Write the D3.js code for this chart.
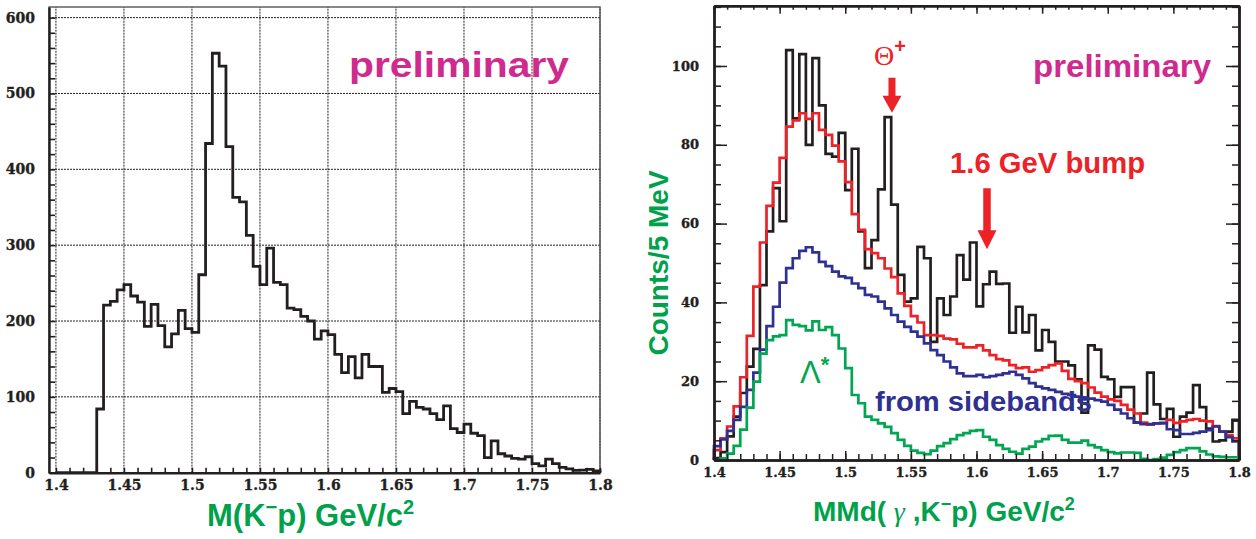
<!DOCTYPE html>
<html lang="en">
<head>
<meta charset="UTF-8">
<title>K-p mass spectra</title>
<script src="https://d3js.org/d3.v7.min.js"></script>
<style>
  body { margin: 0; background: #fff; }
  svg text { font-family: "Liberation Sans", Arial, sans-serif; }
  .tick text { font-family: "DejaVu Serif", serif !important; font-weight: bold; fill: #231f20;
               stroke: #231f20; stroke-width: 0.35px; }
</style>
</head>
<body>
<script>
    const width  = 1256;
    const height = 539;

    // 5 MeV bins from 1.4 to 1.8 GeV
    const binLow   = 1.4;
    const binWidth = 0.005;

    // left panel: M(K-p)
    const leftCounts = [
        0, 0, 0, 0, 0, 0, 84, 221, 226, 241,
        248, 233, 225, 193, 222, 194, 166, 183, 214, 190,
        185, 261, 434, 553, 536, 430, 363, 357, 313, 272,
        248, 296, 251, 248, 217, 215, 206, 200, 176, 187,
        182, 156, 132, 153, 125, 156, 140, 140, 106, 111,
        107, 78, 94, 86, 84, 78, 70, 88, 58, 53,
        64, 52, 49, 20, 42, 25, 22, 19, 18, 21,
        12, 9, 18, 12, 7, 5, 3, 3.5, 4.5, 2.5
    ];

    // right panel: MMd(gamma, K-p)
    const dataCounts = [
        0.5, 2, 6, 11, 17, 23.7, 28.2, 44.4, 58, 69,
        60.6, 104, 86.7, 103, 80, 102, 90, 77.7, 77, 83,
        68.5, 79, 58, 48.7, 55.8, 68.7, 87, 64.8, 47, 40.2,
        41, 54.1, 51.2, 30, 41, 36.8, 41.5, 52, 45.8, 55.2,
        39, 44.6, 47.8, 44.7, 44.8, 32.3, 38.9, 32.4, 36.8, 27.8,
        33, 30, 25, 25, 24, 20.5, 12, 29.1, 28, 21.1,
        20.5, 16, 18.5, 18.5, 9.5, 11.8, 22.2, 14.1, 10.4, 13,
        5.9, 11, 12, 19, 13.4, 8, 4.7, 5, 7.2, 10.2
    ];
    const sumCounts = [
        2.5, 5.5, 8.5, 13.6, 21, 31.5, 44, 55.2, 64.5, 70.4,
        76.7, 84.6, 86.2, 88, 86.6, 88, 83.8, 82.5, 79.8, 75.8,
        70.5, 62.4, 58.4, 53.5, 52.5, 51.2, 48.6, 46.4, 42.3, 39.1,
        36.5, 34.9, 31.7, 31.7, 31.5, 30.8, 30.6, 29.5, 28.6, 28.6,
        29.1, 27.8, 26.6, 25.6, 25.3, 24.1, 23.3, 23.5, 22.4, 22.8,
        23.5, 24.1, 24.5, 22.6, 20.6, 20, 19.5, 18.4, 17.1, 16.1,
        15.4, 15, 14, 12.8, 11.8, 9.5, 9, 9.3, 9.3, 10.2,
        9.4, 9.8, 10.2, 10.4, 10, 9.8, 8.6, 7.2, 6.3, 5.5
    ];
    const sidebandCounts = [
        3.5, 5.2, 7.4, 10.2, 13.5, 17.8, 22.2, 28, 34, 38.9,
        45, 48.7, 51.2, 53.1, 54, 52.7, 50.3, 49.2, 47.8, 46.6,
        46.2, 44.8, 43.6, 41.9, 41.5, 40.2, 38.5, 36.8, 35.1, 33.8,
        32.6, 31.3, 29.6, 27.9, 26.6, 25, 23.5, 22, 21.3, 21.3,
        21.6, 21, 21.3, 21.6, 22, 22.4, 21.6, 20.7, 19.5, 18.6,
        18.2, 17.8, 17.3, 16.8, 16.5, 16.1, 15.4, 15.6, 15.2, 14.8,
        14, 12.8, 11.8, 10.6, 9.5, 9.1, 9.1, 9.3, 9.4, 7.8,
        7.6, 6.6, 6.6, 6.9, 7.2, 7.6, 8.5, 7.2, 5.8, 4.7
    ];
    const lambdaCounts = [
        0, 0.4, 1.6, 3.6, 7.7, 13.3, 19.9, 27, 30.4, 31.4,
        31.7, 35.5, 34.3, 34, 32.9, 35.2, 33, 33.7, 31.7, 28.3,
        23.3, 16.5, 14.4, 11, 10.2, 9.3, 8.4, 6.8, 5.1, 3.6,
        2.4, 1.8, 1.5, 2.4, 3.5, 4.3, 5.3, 6.3, 6.8, 7.4,
        7.6, 5.9, 5.1, 3.8, 2.8, 2.1, 1.6, 2.8, 3.4, 4.7,
        5.3, 6.1, 6.2, 5.1, 4.4, 4.4, 4.9, 3.8, 3.2, 2.5,
        2, 1.7, 1.9, 1.9, 1.8, 0.3, 0, 0.2, 0.6, 1.3,
        2, 2.5, 3, 3, 2.2, 1.4, 0.9, 0.8, 0.7, 0.7
    ];

    // ticks
    const xMinorTicks   = d3.range(140, 181).map(d => d / 100);
    const xMajorTicks   = [1.4, 1.45, 1.5, 1.55, 1.6, 1.65, 1.7, 1.75, 1.8];
    const leftYMinor    = d3.range(0, 620, 20);
    const leftYMajor    = [0, 100, 200, 300, 400, 500, 600];
    const rightYMinor   = d3.range(0, 116, 5);
    const rightYMajor   = [0, 20, 40, 60, 80, 100];

    const black = "#231f20", red = "#ec2227", blue = "#2e3192", green = "#00a651";
    const magenta = "#cf2a8e", titleGreen = "#00a14b";

    const isMajor = d => Math.round(d * 100) % 5 === 0;
    const xFmt = d => isMajor(d) ? String(+d.toFixed(2)) : "";

    function stepPoints(counts) {
        const n = counts.length;
        const pts = [[binLow, 0]];
        counts.forEach((c, i) => pts.push([binLow + i * binWidth, c]));
        pts.push([binLow + n * binWidth, counts[n - 1]]);
        pts.push([binLow + n * binWidth, 0]);
        return pts;
    }

    const svg = d3.select("body").append("svg").attr("width", width).attr("height", height);

    // ---------------- left panel ----------------
    const xL = d3.scaleLinear().domain([1.3949, 1.8]).range([49, 600]);
    const yL = d3.scaleLinear().domain([0, 614]).range([472.7, 7]);
    const gL = svg.append("g");

    gL.selectAll(".vgrid").data(xMajorTicks).join("line")
        .attr("x1", d => xL(d)).attr("x2", d => xL(d))
        .attr("y1", yL(0)).attr("y2", yL(614))
        .attr("stroke", "#222").attr("stroke-width", 1).attr("stroke-dasharray", "2,1");
    gL.selectAll(".hgrid").data(leftYMajor.slice(1)).join("line")
        .attr("x1", xL.range()[0]).attr("x2", xL.range()[1])
        .attr("y1", d => yL(d)).attr("y2", d => yL(d))
        .attr("stroke", "#222").attr("stroke-width", 1).attr("stroke-dasharray", "2,1");

    gL.append("rect")
        .attr("x", xL.range()[0]).attr("y", yL.range()[1])
        .attr("width", xL.range()[1] - xL.range()[0]).attr("height", yL.range()[0] - yL.range()[1])
        .attr("fill", "none").attr("stroke", "#555").attr("stroke-width", 1.4);

    const histL = d3.line().x(d => xL(d[0])).y(d => yL(d[1])).curve(d3.curveStepAfter);
    gL.append("path").attr("d", histL(stepPoints(leftCounts)))
        .attr("fill", "none").attr("stroke", black).attr("stroke-width", 2.8);

    const axL = gL.append("g").attr("transform", `translate(${xL.range()[0]},0)`)
        .call(d3.axisLeft(yL).tickValues(leftYMinor).tickSize(-6).tickSizeOuter(0).tickPadding(14)
            .tickFormat(d => leftYMajor.includes(d) ? d : ""));
    const axB = gL.append("g").attr("transform", `translate(0,${yL(0)})`)
        .call(d3.axisBottom(xL).tickValues(xMinorTicks).tickSize(-5).tickSizeOuter(0).tickPadding(7)
            .tickFormat(xFmt));
    [axL, axB].forEach(a => {
        a.select(".domain").attr("stroke", black).attr("stroke-width", 2.4);
        a.selectAll(".tick line").attr("stroke", black).attr("stroke-width", 1.6);
        a.selectAll(".tick text").attr("font-size", 14);
    });

    gL.append("text").attr("x", 349).attr("y", 77)
        .attr("font-size", 35).attr("font-weight", "bold").attr("fill", magenta)
        .attr("textLength", 220).attr("lengthAdjust", "spacingAndGlyphs")
        .text("preliminary");

    const tL = gL.append("text").attr("x", 207).attr("y", 526)
        .attr("font-size", 31).attr("font-weight", "bold").attr("fill", titleGreen);
    tL.append("tspan").text("M(K");
    tL.append("tspan").attr("font-size", 20).attr("dy", -12).text("\u2212");
    tL.append("tspan").attr("dy", 12).text("p) GeV/c");
    tL.append("tspan").attr("font-size", 20).attr("dy", -12).text("2");

    // ---------------- right panel ----------------
    const xR = d3.scaleLinear().domain([1.4, 1.8]).range([714, 1239]);
    const yR = d3.scaleLinear().domain([0, 115.3]).range([460, 5.7]);
    const gR = svg.append("g");

    const histR = d3.line().x(d => xR(d[0])).y(d => yR(d[1])).curve(d3.curveStepAfter);
    [[dataCounts, black], [sumCounts, red], [sidebandCounts, blue], [lambdaCounts, green]]
        .forEach(([c, col]) => {
            gR.append("path").attr("d", histR(stepPoints(c)))
                .attr("fill", "none").attr("stroke", col).attr("stroke-width", 2.7);
        });

    function styleAxis(a) {
        a.select(".domain").attr("stroke", black).attr("stroke-width", 2.4);
        a.selectAll(".tick line").attr("stroke", black).attr("stroke-width", 1.5);
        a.selectAll(".tick text").attr("font-size", 13);
    }
    const noLab = () => "";
    // left
    styleAxis(gR.append("g").attr("transform", `translate(${xR(1.4)},0)`)
        .call(d3.axisLeft(yR).tickValues(rightYMinor).tickSize(-7).tickSizeOuter(0).tickFormat(noLab)));
    styleAxis(gR.append("g").attr("transform", `translate(${xR(1.4)},0)`)
        .call(d3.axisLeft(yR).tickValues(rightYMajor).tickSize(-13).tickSizeOuter(0).tickPadding(15)));
    // right
    styleAxis(gR.append("g").attr("transform", `translate(${xR(1.8)},0)`)
        .call(d3.axisRight(yR).tickValues(rightYMinor).tickSize(-7).tickSizeOuter(0).tickFormat(noLab)));
    styleAxis(gR.append("g").attr("transform", `translate(${xR(1.8)},0)`)
        .call(d3.axisRight(yR).tickValues(rightYMajor).tickSize(-13).tickSizeOuter(0).tickFormat(noLab)));
    // bottom
    styleAxis(gR.append("g").attr("transform", `translate(0,${yR(0)})`)
        .call(d3.axisBottom(xR).tickValues(xMinorTicks).tickSize(-6).tickSizeOuter(0).tickPadding(8)
            .tickFormat(xFmt)));
    styleAxis(gR.append("g").attr("transform", `translate(0,${yR(0)})`)
        .call(d3.axisBottom(xR).tickValues(xMajorTicks).tickSize(-9).tickSizeOuter(0).tickFormat(noLab)));
    // top
    styleAxis(gR.append("g").attr("transform", `translate(0,${yR(115.3)})`)
        .call(d3.axisTop(xR).tickValues(xMinorTicks).tickSize(-4).tickSizeOuter(0).tickFormat(noLab)));
    styleAxis(gR.append("g").attr("transform", `translate(0,${yR(115.3)})`)
        .call(d3.axisTop(xR).tickValues(xMajorTicks).tickSize(-8).tickSizeOuter(0).tickFormat(noLab)));

    // arrows
    function arrow(xv, tipV, len, headLen, headW, shaftW) {
        const x = xR(xv), tip = yR(tipV);
        const p = d3.path();
        p.moveTo(x - shaftW / 2, tip - len);
        p.lineTo(x + shaftW / 2, tip - len);
        p.lineTo(x + shaftW / 2, tip - headLen);
        p.lineTo(x + headW / 2, tip - headLen);
        p.lineTo(x, tip);
        p.lineTo(x - headW / 2, tip - headLen);
        p.lineTo(x - shaftW / 2, tip - headLen);
        p.closePath();
        gR.append("path").attr("d", p.toString()).attr("fill", red);
    }
    arrow(1.5356, 88.1, 35, 17, 19, 7);
    arrow(1.608, 53.5, 61, 19, 19, 7.5);

    gR.append("text").attr("x", 1033).attr("y", 77)
        .attr("font-size", 31).attr("font-weight", "bold").attr("fill", magenta)
        .attr("textLength", 178).attr("lengthAdjust", "spacingAndGlyphs")
        .text("preliminary");

    const th = gR.append("text").attr("x", 874).attr("y", 65).attr("fill", red);
    th.append("tspan").attr("font-family", "Liberation Serif, serif").attr("font-size", 28).text("\u0398");
    th.append("tspan").attr("font-size", 20).attr("font-weight", "bold").attr("dy", -12).text("+");

    gR.append("text").attr("x", 950).attr("y", 173)
        .attr("font-size", 29).attr("font-weight", "bold").attr("fill", red)
        .attr("textLength", 195).attr("lengthAdjust", "spacingAndGlyphs")
        .text("1.6 GeV bump");

    const lam = gR.append("text").attr("x", 800).attr("y", 383).attr("fill", green)
        .attr("font-family", "Liberation Serif, serif");
    lam.append("tspan").attr("font-size", 31).text("\u039b");
    lam.append("tspan").attr("font-size", 22).attr("font-weight", "bold").attr("dy", -11).text("*");

    gR.append("text").attr("x", 875).attr("y", 411)
        .attr("font-size", 28).attr("font-weight", "bold").attr("fill", blue)
        .attr("textLength", 217).attr("lengthAdjust", "spacingAndGlyphs")
        .text("from sidebands");

    gR.append("text").attr("transform", "translate(668,263) rotate(-90)")
        .attr("text-anchor", "middle")
        .attr("font-size", 28).attr("font-weight", "bold").attr("fill", titleGreen)
        .text("Counts/5 MeV");

    const tR = gR.append("text").attr("x", 813).attr("y", 521)
        .attr("font-size", 28).attr("font-weight", "bold").attr("fill", titleGreen);
    tR.append("tspan").text("MMd( ");
    tR.append("tspan").attr("font-family", "Liberation Serif, serif").attr("font-style", "italic")
        .attr("font-weight", "normal").text("\u03b3");
    tR.append("tspan").text(" ,K");
    tR.append("tspan").attr("font-size", 18).attr("dy", -11).text("\u2212");
    tR.append("tspan").attr("dy", 11).text("p) GeV/c");
    tR.append("tspan").attr("font-size", 18).attr("dy", -11).text("2");
</script>
</body>
</html>
